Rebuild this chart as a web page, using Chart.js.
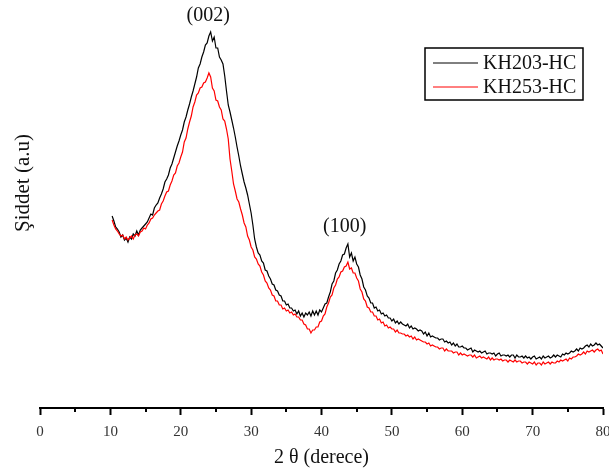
<!DOCTYPE html>
<html>
<head>
<meta charset="utf-8">
<script src="https://cdn.jsdelivr.net/npm/chart.js@4.4.1/dist/chart.umd.min.js"></script>
<style>
html,body{margin:0;padding:0;background:#fff;}
#wrap{width:609px;height:475px;position:relative;}
</style>
</head>
<body>
<div id="wrap"><canvas id="c" width="609" height="475"></canvas></div>
<script>
// 2θ sampling: start 10.25°, step 0.25°
const thetaStart = 10.25;
const thetaStep = 0.25;

const seriesNames = ['KH203-HC', 'KH253-HC'];
const seriesColors = ['#000000', '#ff0000'];

const kh203 = [
192,187,181,179, 176,171,173,168, 170,166,171,169, 174,172,177,173, 178,180,182,184,
186,190,194,193, 200,203,205,210, 214,219,226,229, 233,240,244,250, 256,262,267,273,
278,286,291,298, 304,311,317,324, 331,340,344,351, 356,363,365,372, 376,367,371,360,
360,351,348,344, 332,317,303,296, 288,280,271,261, 252,242,234,226, 220,213,204,195,
183,169,161,155, 153,147,145,138, 137,132,129,124, 123,118,117,113, 112,107,107,103,
104,100,100,97, 98,94,97,92, 95,91,95,93, 96,92,97,93, 97,93,98,96,
100,104,105,111, 116,124,127,135, 138,144,147,153, 154,160,164,151, 155,147,151,144,
141,133,129,121, 118,112,110,105, 105,100,101,97, 98,94,95,92, 93,90,90,87,
89,85,87,84, 86,84,83,82, 84,80,82,79, 80,79,77,78, 77,74,76,72,
75,71,72,71, 70,70,68,69, 69,66,67,65, 66,63,65,62, 64,61,61,62,
60,60,58,59, 60,56,58,57, 56,57,55,56, 57,54,55,55, 54,55,52,54,
55,52,53,53, 52,53,51,53, 53,50,53,51, 51,52,50,52, 50,51,49,51,
52,49,50,51, 49,52,50,51, 52,50,51,53, 51,53,52,51, 54,53,55,54,
55,57,56,57, 59,57,60,59, 60,62,63,61, 64,62,63,65, 63,64,62,60
];

const kh253 = [
188,183,179,177, 174,172,173,169, 171,168,170,172, 169,173,174,172, 176,177,180,179,
183,185,189,190, 193,195,197,198, 204,207,212,216, 217,223,227,233, 235,242,245,251,
256,266,270,279, 286,292,301,306, 313,315,320,321, 325,326,330,335, 331,320,317,308,
307,301,298,289, 287,279,269,249, 237,224,217,209, 206,199,193,185, 181,172,168,161,
158,151,149,144, 142,136,133,127, 125,120,118,113, 112,107,107,103, 103,99,100,97,
98,95,96,93, 94,91,91,88, 88,84,83,79, 79,75,78,78, 81,81,86,87,
92,94,101,105, 111,113,120,123, 129,131,136,137, 141,142,146,139, 140,135,135,130,
127,119,116,109, 107,101,100,96, 96,92,92,88, 89,85,86,82, 83,80,81,79,
79,76,78,75, 75,74,74,72, 73,71,72,69, 71,68,69,68, 67,66,66,64,
65,62,63,62, 61,61,59,60, 60,57,59,57, 57,57,55,56, 56,53,55,53,
54,53,52,53, 53,51,53,50, 51,52,50,51, 50,49,51,48, 50,48,49,49,
48,49,47,48, 48,46,48,47, 46,48,46,47, 47,45,46,46, 44,46,45,44,
46,43,45,45, 43,46,44,45, 46,44,46,45, 45,47,46,48, 47,48,49,47,
50,49,51,51, 52,54,53,54, 56,54,57,56, 57,58,56,58, 59,57,58,54
];

const xTicksMajor = [0, 10, 20, 30, 40, 50, 60, 70, 80];
const xTicksMinor = [5, 15, 25, 35, 45, 55, 65, 75];

const peakLabels = ['(002)', '(100)'];
const peakX = [23.9, 43.3];
const peakY = [392, 181];

const xTitle = '2 θ (derece)';
const yTitle = 'Şiddet (a.u)';

const toPoints = arr => arr.map((v, i) => ({x: thetaStart + i * thetaStep, y: v}));

const serif = "'Liberation Serif', 'Times New Roman', serif";

const extrasPlugin = {
  id: 'extras',
  afterDraw(chart) {
    const ctx = chart.ctx;
    const xs = chart.scales.x, ys = chart.scales.y;
    ctx.save();
    // minor ticks
    ctx.strokeStyle = '#000';
    ctx.lineWidth = 2;
    const axisY = chart.chartArea.bottom;
    xTicksMinor.forEach(v => {
      const px = Math.round(xs.getPixelForValue(v));
      ctx.beginPath();
      ctx.moveTo(px, axisY);
      ctx.lineTo(px, axisY + 4);
      ctx.stroke();
    });
    // y title
    ctx.fillStyle = '#111';
    ctx.font = '21px ' + serif;
    ctx.textAlign = 'center';
    ctx.textBaseline = 'middle';
    ctx.save();
    ctx.translate(23, 183);
    ctx.rotate(-Math.PI / 2);
    ctx.fillText(yTitle, 0, 0);
    ctx.restore();
    // peak labels
    ctx.font = '20px ' + serif;
    peakLabels.forEach((t, i) => {
      ctx.fillText(t, xs.getPixelForValue(peakX[i]), ys.getPixelForValue(peakY[i]));
    });
    // legend box
    const bx = 425, by = 48, bw = 158, bh = 52;
    ctx.lineWidth = 1.5;
    ctx.strokeStyle = '#000';
    ctx.strokeRect(bx, by, bw, bh);
    ctx.textAlign = 'left';
    ctx.font = '20px ' + serif;
    chart.data.datasets.forEach((ds, i) => {
      const ly = by + 15 + i * 24;
      ctx.strokeStyle = ds.borderColor;
      ctx.lineWidth = 1;
      ctx.beginPath();
      ctx.moveTo(bx + 8, ly);
      ctx.lineTo(bx + 53, ly);
      ctx.stroke();
      ctx.fillStyle = '#111';
      ctx.fillText(ds.label, bx + 58, ly + 1);
    });
    ctx.restore();
  }
};

new Chart(document.getElementById('c'), {
  type: 'line',
  data: {
    datasets: [
      {label: seriesNames[0], data: toPoints(kh203), borderColor: seriesColors[0], borderWidth: 1.2, pointRadius: 0, tension: 0, order: 1},
      {label: seriesNames[1], data: toPoints(kh253), borderColor: seriesColors[1], borderWidth: 1.2, pointRadius: 0, tension: 0, order: 0}
    ]
  },
  options: {
    responsive: false,
    animation: false,
    events: [],
    layout: {padding: {left: 40, right: 6, top: 10, bottom: 0}},
    plugins: {legend: {display: false}, tooltip: {enabled: false}},
    scales: {
      x: {
        type: 'linear',
        min: 0, max: 80,
        afterBuildTicks(scale) { scale.ticks = xTicksMajor.map(v => ({value: v})); },
        afterFit(scale) { scale.height = 67; scale.paddingLeft = 0; scale.paddingRight = 0; },
        grid: {display: true, drawOnChartArea: false, drawTicks: true, tickLength: 7, tickWidth: 2, tickColor: '#000'},
        border: {display: true, color: '#000', width: 2},
        ticks: {color: '#333', font: {family: serif, size: 15}, padding: 8, maxRotation: 0, autoSkip: false},
        title: {display: true, text: xTitle, color: '#111', font: {family: serif, size: 20}, padding: {top: 0, bottom: 5}}
      },
      y: {
        type: 'linear',
        display: false,
        min: 0, max: 398
      }
    }
  },
  plugins: [extrasPlugin]
});
</script>
</body>
</html>
